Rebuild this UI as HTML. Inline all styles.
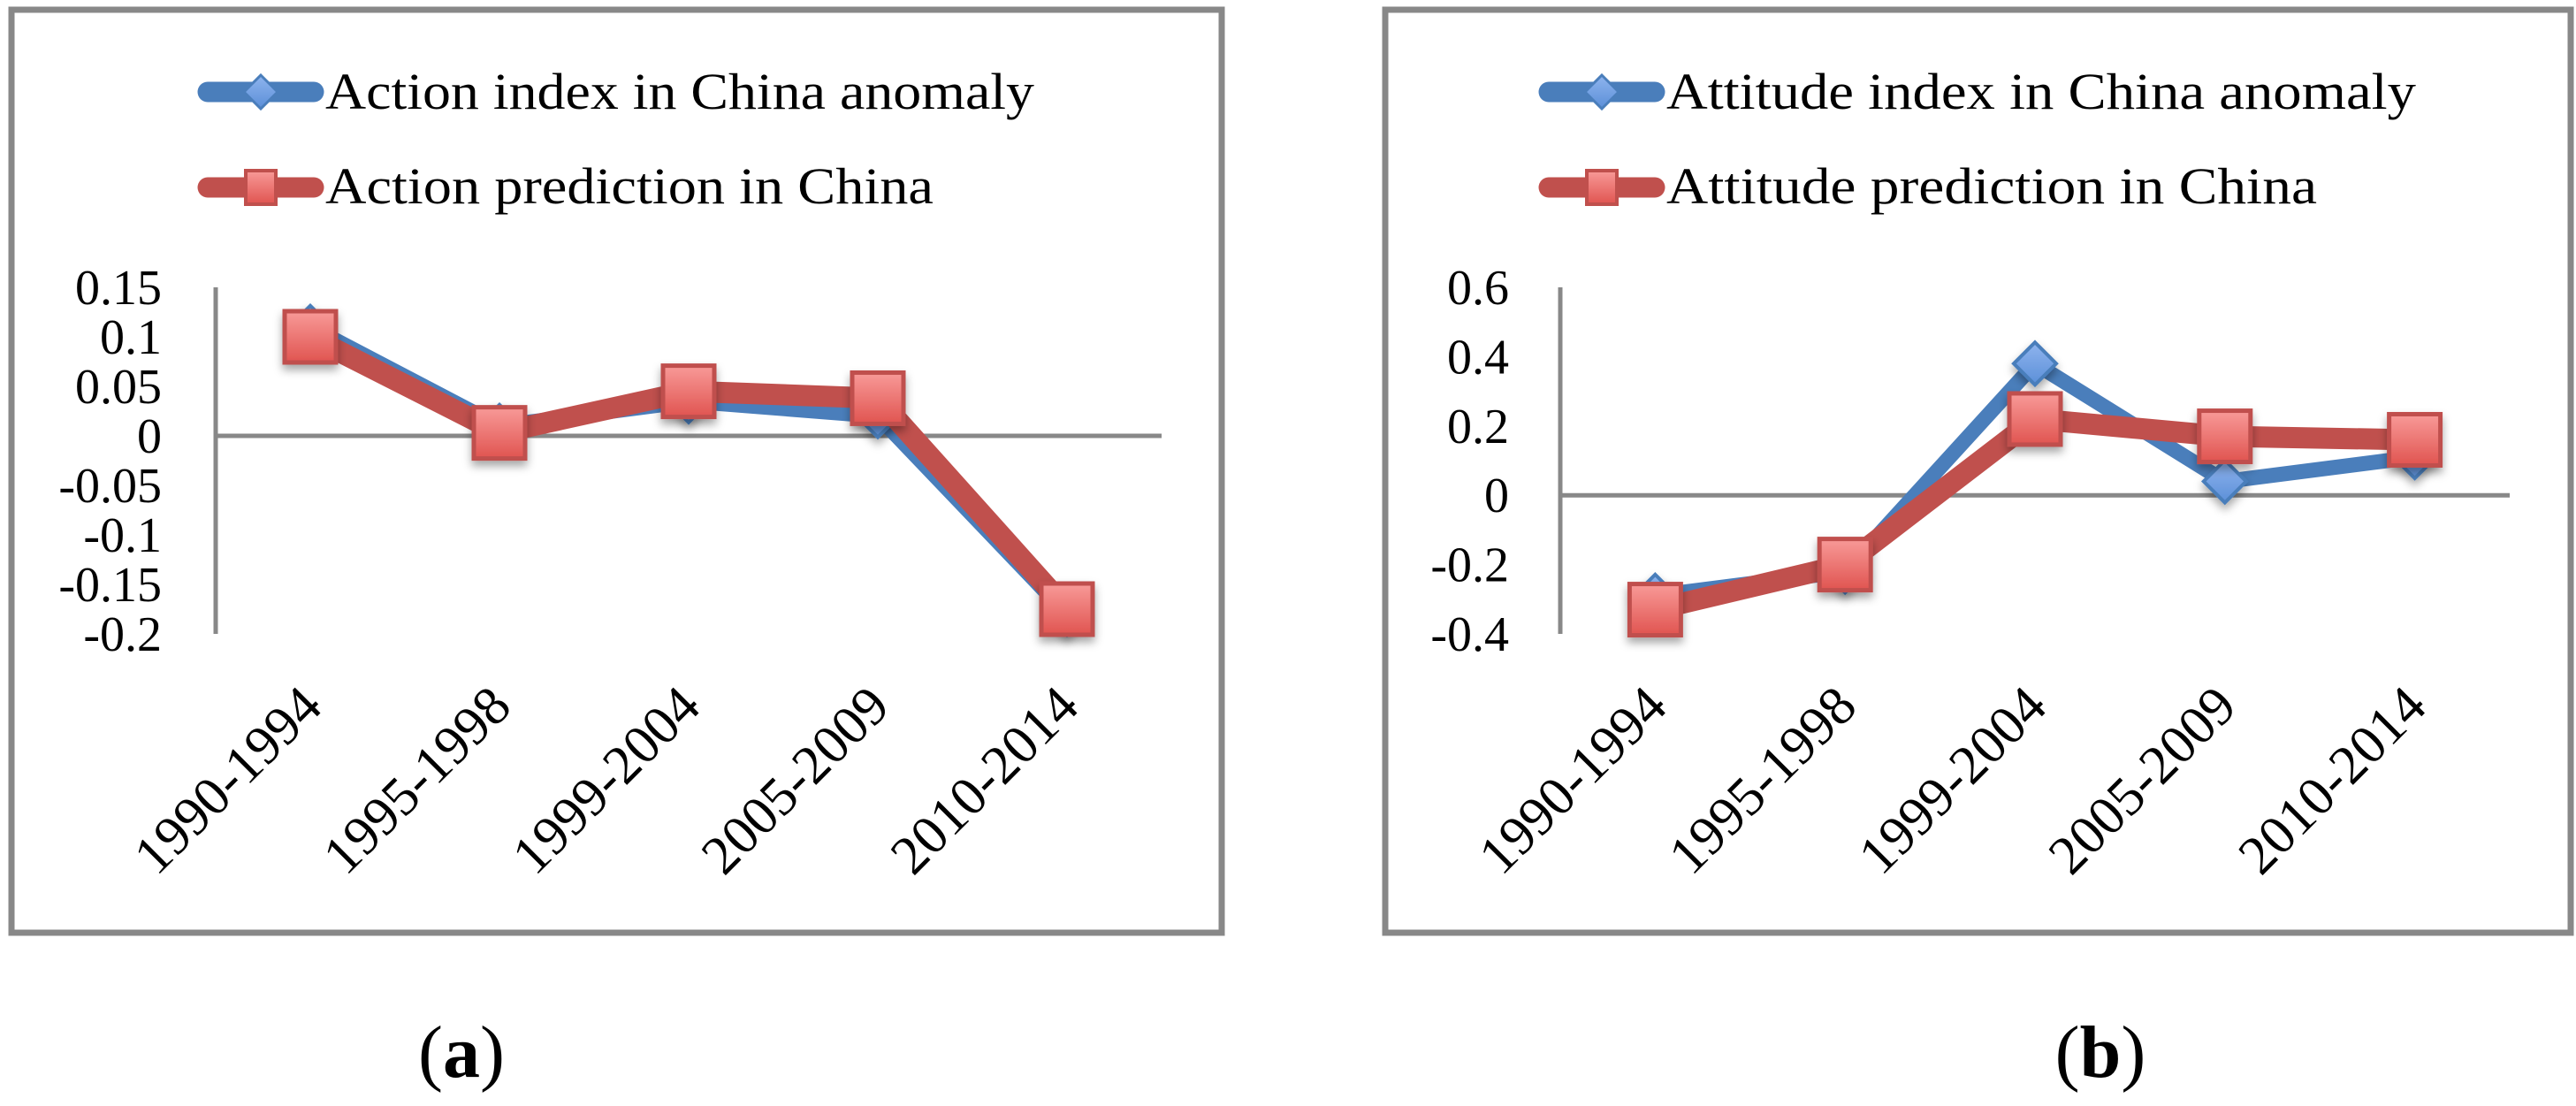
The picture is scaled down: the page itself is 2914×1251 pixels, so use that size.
<!DOCTYPE html>
<html><head><meta charset="utf-8"><style>
html,body{margin:0;padding:0;background:#fff;}
svg{display:block;}
text{font-family:"Liberation Serif",serif;fill:#000;}
</style></head>
<body>
<svg id="root" width="2914" height="1251" viewBox="0 0 2914 1251" xmlns="http://www.w3.org/2000/svg">
<defs>
<linearGradient id="rg" x1="0" y1="0" x2="0" y2="1"><stop offset="0" stop-color="#f89a98"/><stop offset="1" stop-color="#e05450"/></linearGradient>
<linearGradient id="bg" x1="0" y1="0" x2="0" y2="1"><stop offset="0" stop-color="#8fb4ee"/><stop offset="1" stop-color="#5b8fd8"/></linearGradient>
<filter id="sh" x="-50%" y="-50%" width="200%" height="200%"><feDropShadow dx="0" dy="6" stdDeviation="5" flood-color="#000" flood-opacity="0.35"/></filter>
</defs>
<g id="chartA"></g>
<g id="chartB"></g>
<text x="522" y="1218" font-size="84" text-anchor="middle">(<tspan font-weight="bold">a</tspan>)</text>
<text x="2376" y="1218" font-size="84" text-anchor="middle">(<tspan font-weight="bold">b</tspan>)</text>
</svg>
<script>
const categories = ["1990-1994","1995-1998","1999-2004","2005-2009","2010-2014"];
const actionIndex = [0.11, 0.01, 0.035, 0.02, -0.18];
const actionPred = [0.10, 0.003, 0.045, 0.038, -0.175];
const actionTicks = [0.15, 0.1, 0.05, 0, -0.05, -0.1, -0.15, -0.2];
const actionTickLabels = ["0.15","0.1","0.05","0","-0.05","-0.1","-0.15","-0.2"];
const attitudeIndex = [-0.29, -0.22, 0.38, 0.04, 0.11];
const attitudePred = [-0.33, -0.2, 0.22, 0.17, 0.16];
const attitudeTicks = [0.6, 0.4, 0.2, 0, -0.2, -0.4];
const attitudeTickLabels = ["0.6","0.4","0.2","0","-0.2","-0.4"];

const NS = "http://www.w3.org/2000/svg";
function mk(parent, tag, attrs){ const e=document.createElementNS(NS,tag); for(const k in attrs) e.setAttribute(k,attrs[k]); parent.appendChild(e); return e; }

function drawChart(g, o){
  const frame = mk(g,'rect',{x:o.fx,y:11,width:o.fw,height:1044,fill:'none',stroke:'#888',"stroke-width":7});
  
  
  const top=325, bot=717, vmax=o.ticks[0], vmin=o.ticks[o.ticks.length-1];
  const y = v => top + (vmax - v)/(vmax - vmin)*(bot-top);
  const step = (o.x1 - o.x0)/categories.length;
  const x = i => o.x0 + step*(i+0.5);
  const ya = mk(g,'line',{x1:o.x0,y1:top,x2:o.x0,y2:bot,stroke:'#888',"stroke-width":5});
  
  
  const xa = mk(g,'line',{x1:o.x0,y1:y(0),x2:o.x1,y2:y(0),stroke:'#888',"stroke-width":5});
  
  
  o.ticks.forEach((t,i)=>{
    const tx = mk(g,'text',{x:o.lx,y:y(t)+19,"font-size":56,"text-anchor":"end"});
    tx.textContent = o.tickLabels[i];
    
    
  });
  categories.forEach((c,i)=>{
    const ax=x(i)+16, ay=802;
    const tx = mk(g,'text',{x:ax,y:ay,"font-size":62,"text-anchor":"end",transform:`rotate(-45 ${ax} ${ay})`});
    tx.textContent = c;
    
    
  });
  const bl = mk(g,'polyline',{points:o.s1.map((v,i)=>x(i)+','+y(v)).join(' '),fill:'none',stroke:'#4a7ebb',"stroke-width":17,"stroke-linejoin":"round","stroke-linecap":"round"});
  
  
  o.s1.forEach((v,i)=>{
    const cx=x(i), cy=y(v), r=24;
    const d = mk(g,'polygon',{points:`${cx},${cy-r} ${cx+r},${cy} ${cx},${cy+r} ${cx-r},${cy}`,fill:'url(#bg)',stroke:'#4a7ebb',"stroke-width":4,filter:'url(#sh)'});
    
    
  });
  const rl = mk(g,'polyline',{points:o.s2.map((v,i)=>x(i)+','+y(v)).join(' '),fill:'none',stroke:'#c0504d',"stroke-width":24,"stroke-linejoin":"round","stroke-linecap":"round"});
  
  
  o.s2.forEach((v,i)=>{
    const cx=x(i), cy=y(v), h=29;
    const s = mk(g,'rect',{x:cx-h,y:cy-h,width:2*h,height:2*h,fill:'url(#rg)',stroke:'#c0504d',"stroke-width":5,filter:'url(#sh)'});
    
    
  });
  const L=o.legX;
  const l1 = mk(g,'line',{x1:L+12,y1:104,x2:L+132,y2:104,stroke:'#4a7ebb',"stroke-width":23,"stroke-linecap":"round"});
  
  
  const lc=L+72;
  mk(g,'polygon',{points:`${lc},${85} ${lc+19},104 ${lc},123 ${lc-19},104`,fill:'url(#bg)',stroke:'#4a7ebb',"stroke-width":3});
  const t1 = mk(g,'text',{x:L+145,y:123,"font-size":58,textLength:o.w1,lengthAdjust:'spacingAndGlyphs'});
  t1.textContent=o.leg1;
  
  
  const l2 = mk(g,'line',{x1:L+12,y1:212,x2:L+132,y2:212,stroke:'#c0504d',"stroke-width":23,"stroke-linecap":"round"});
  
  
  mk(g,'rect',{x:lc-17,y:193,width:34,height:38,fill:'url(#rg)',stroke:'#c0504d',"stroke-width":4});
  const t2 = mk(g,'text',{x:L+145,y:230,"font-size":58,textLength:o.w2,lengthAdjust:'spacingAndGlyphs'});
  t2.textContent=o.leg2;
  
  
}

drawChart(document.getElementById('chartA'),{fx:13,fw:1369,x0:244,x1:1314,lx:183,ticks:actionTicks,tickLabels:actionTickLabels,s1:actionIndex,s2:actionPred,legX:223,leg1:"Action index in China anomaly",leg2:"Action prediction in China",w1:802,w2:688});
drawChart(document.getElementById('chartB'),{fx:1567,fw:1341,x0:1765,x1:2839,lx:1707,ticks:attitudeTicks,tickLabels:attitudeTickLabels,s1:attitudeIndex,s2:attitudePred,legX:1740,leg1:"Attitude index in China anomaly",leg2:"Attitude prediction in China",w1:848,w2:736});
</script>
</body></html>
